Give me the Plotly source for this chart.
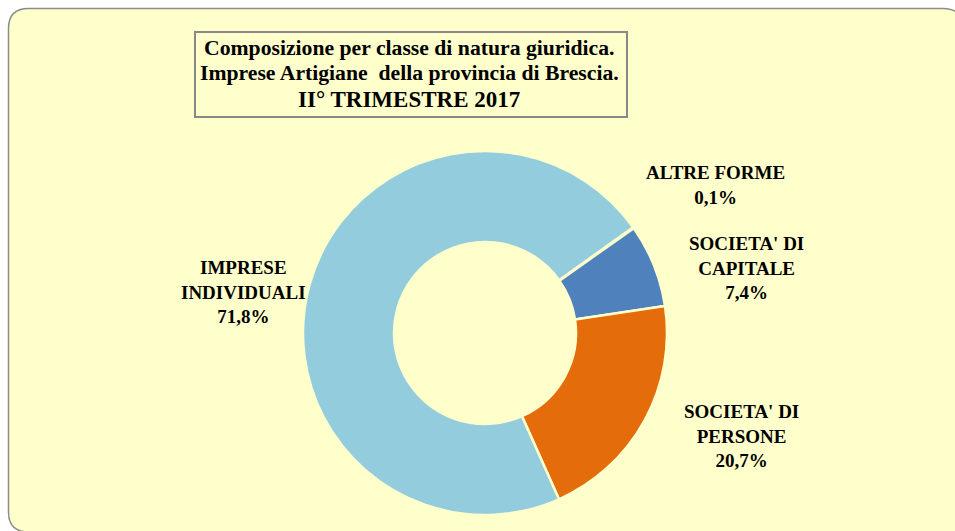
import plotly.graph_objects as go

W, H = 955, 531

categories = ["ALTRE FORME", "SOCIETA' DI CAPITALE", "SOCIETA' DI PERSONE", "IMPRESE INDIVIDUALI"]
label_lines = ["ALTRE FORME", "SOCIETA' DI<br>CAPITALE", "SOCIETA' DI<br>PERSONE", "IMPRESE<br>INDIVIDUALI"]
values = [0.1, 7.4, 20.7, 71.8]
colors = ["#8064A2", "#4F81BD", "#E46C0A", "#93CDDD"]
title_lines = ["Composizione per classe di natura giuridica.",
               "Imprese Artigiane  della provincia di Brescia.",
               "II° TRIMESTRE 2017"]

BG = "#FFFFCC"

def px(x):
    return x / W

def py(y):
    return 1 - y / H

fig = go.Figure()

cx, cy, r = 485, 333, 182
fig.add_trace(go.Pie(
    labels=categories, values=values, sort=False, direction="clockwise",
    rotation=54.5, hole=0.5,
    marker=dict(colors=colors, line=dict(color=BG, width=2.5)),
    textinfo="none", hoverinfo="label+percent", showlegend=False,
    domain=dict(x=[px(cx - r), px(cx + r)], y=[py(cy + r), py(cy - r)]),
))

# rounded panel (right and bottom-right parts fall outside the view)
L, T, R, B, rad = 8.5, 8.5, 963, 532, 20
path = (f"M {px(L)},{py(T+rad)} Q {px(L)},{py(T)} {px(L+rad)},{py(T)} "
        f"L {px(R-rad)},{py(T)} Q {px(R)},{py(T)} {px(R)},{py(T+rad)} "
        f"L {px(R)},{py(B)} "
        f"L {px(L+rad)},{py(B)} Q {px(L)},{py(B)} {px(L)},{py(B-rad)} Z")
shapes = [
    dict(type="path", xref="paper", yref="paper", path=path,
         fillcolor=BG, line=dict(color="#8C8C8C", width=1.5), layer="below"),
    dict(type="rect", xref="paper", yref="paper",
         x0=px(195), x1=px(627), y0=py(117), y1=py(32),
         fillcolor="rgba(0,0,0,0)", line=dict(color="#888888", width=2)),
]

font = "Liberation Serif, Times New Roman, serif"
annotations = []
for txt, yy, sz in zip(title_lines, [48, 73, 100], [21.7, 21.7, 23]):
    annotations.append(dict(text=f"<b>{txt}</b>", x=px(409), y=py(yy), xref="paper", yref="paper",
                            showarrow=False, xanchor="center", yanchor="middle",
                            font=dict(family=font, size=sz, color="black")))

label_pos = [(715, 185), (746, 268), (741, 436), (243, 292)]
for lab, v, (lx, ly) in zip(label_lines, values, label_pos):
    t = f"<b>{lab}<br>{v:.1f}%</b>".replace(".", ",")
    annotations.append(dict(text=t, x=px(lx), y=py(ly), xref="paper", yref="paper",
                            showarrow=False, xanchor="center", yanchor="middle", align="center",
                            font=dict(family=font, size=19, color="black")))

fig.update_layout(width=W, height=H, margin=dict(l=0, r=0, t=0, b=0),
                  paper_bgcolor="white", plot_bgcolor="white",
                  shapes=shapes, annotations=annotations)

fig.write_html("out.html", config={"displayModeBar": False},
               post_script="document.body.style.margin='0px';document.body.style.overflow='hidden';")
